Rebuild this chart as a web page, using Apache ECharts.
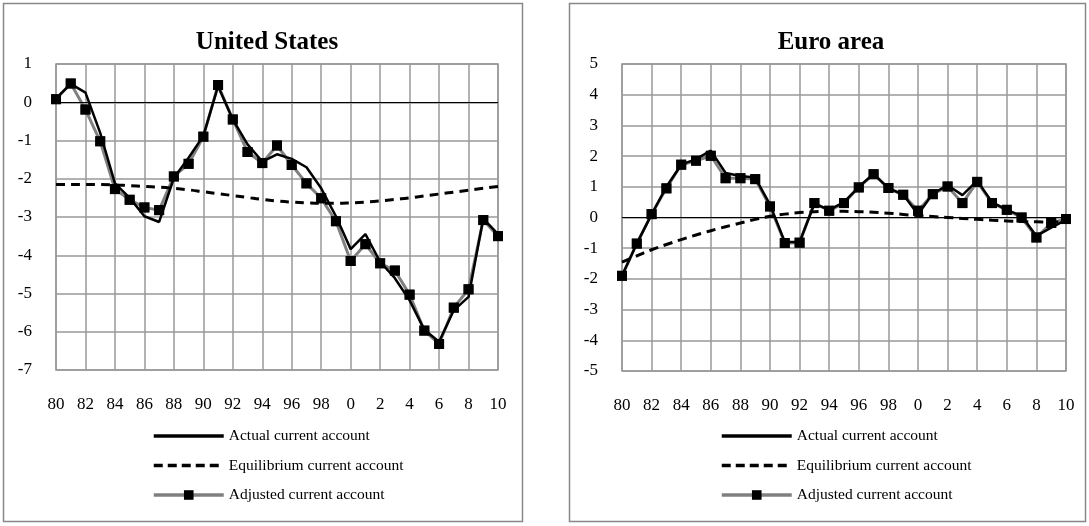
<!DOCTYPE html>
<html>
<head>
<meta charset="utf-8">
<script src="https://cdn.jsdelivr.net/npm/echarts@6/dist/echarts.min.js"></script>
<style>html,body{margin:0;padding:0;background:#fff;}#c{width:1089px;height:526px;}</style>
</head>
<body>
<div id="c"></div>
<script>
const years = [1980,1981,1982,1983,1984,1985,1986,1987,1988,1989,1990,1991,1992,1993,1994,1995,1996,1997,1998,1999,2000,2001,2002,2003,2004,2005,2006,2007,2008,2009,2010];
const usTitle = 'United States';
const euTitle = 'Euro area';
const seriesNames = ['Actual current account','Equilibrium current account','Adjusted current account'];

const usActual = [0.1,0.48,0.25,-0.8,-2.12,-2.5,-2.98,-3.13,-1.98,-1.45,-0.88,0.42,-0.45,-1.1,-1.55,-1.36,-1.48,-1.7,-2.25,-2.98,-3.84,-3.45,-4.17,-4.6,-5.18,-5.95,-6.26,-5.44,-5.09,-3.04,-3.45];
const usEquil = [-2.15,-2.15,-2.15,-2.15,-2.16,-2.18,-2.2,-2.22,-2.25,-2.29,-2.34,-2.39,-2.44,-2.49,-2.54,-2.58,-2.61,-2.63,-2.64,-2.64,-2.63,-2.61,-2.58,-2.54,-2.5,-2.45,-2.4,-2.35,-2.3,-2.25,-2.2];
const usAdjusted = [0.08,0.49,-0.19,-1.02,-2.27,-2.55,-2.75,-2.82,-1.94,-1.61,-0.9,0.45,-0.45,-1.3,-1.59,-1.13,-1.64,-2.12,-2.51,-3.11,-4.15,-3.71,-4.21,-4.4,-5.03,-5.97,-6.32,-5.37,-4.89,-3.08,-3.5];

const euActual = [-1.9,-0.85,0.1,1.0,1.72,1.9,2.18,1.45,1.35,1.3,0.42,-0.8,-0.8,0.45,0.25,0.5,1.0,1.42,0.95,0.75,0.1,0.78,1.05,0.73,1.2,0.5,0.25,0.05,-0.6,-0.33,-0.08];
const euEquil = [-1.45,-1.25,-1.05,-0.88,-0.72,-0.57,-0.43,-0.3,-0.18,-0.06,0.04,0.11,0.16,0.19,0.2,0.2,0.19,0.17,0.14,0.1,0.06,0.03,0.0,-0.03,-0.06,-0.09,-0.11,-0.13,-0.14,-0.15,-0.15];
const euAdjusted = [-1.9,-0.85,0.11,0.95,1.72,1.85,2.01,1.28,1.28,1.25,0.36,-0.83,-0.82,0.47,0.22,0.47,0.98,1.41,0.96,0.74,0.22,0.76,1.01,0.47,1.16,0.47,0.25,0.0,-0.65,-0.18,-0.05];

const usY = {min:-7, max:1, interval:1};
const euY = {min:-5, max:5, interval:1};

const FONT = '"Liberation Serif","Times New Roman",serif';
const pair = arr => years.map((y,i)=>[y,arr[i]]);

function panelSeries(idx, act, eq, adj){
  return [
    {name:seriesNames[2], type:'line', xAxisIndex:idx, yAxisIndex:idx, data:pair(adj), z:2,
     lineStyle:{color:'#808080', width:3}, itemStyle:{color:'#000'}, symbol:'rect', symbolSize:10, showSymbol:true,
     emphasis:{disabled:true}, animation:false,
     markLine:{silent:true, symbol:'none', label:{show:false}, lineStyle:{color:'#000', width:1, type:'solid'}, data:[{yAxis:0}], animation:false}},
    {name:seriesNames[0], type:'line', xAxisIndex:idx, yAxisIndex:idx, data:pair(act), z:3,
     lineStyle:{color:'#000', width:2.5}, itemStyle:{color:'#000'}, symbol:'none', showSymbol:false,
     emphasis:{disabled:true}, animation:false},
    {name:seriesNames[1], type:'line', xAxisIndex:idx, yAxisIndex:idx, data:pair(eq), z:3, smooth:true,
     lineStyle:{color:'#000', width:3, type:[9,6]}, itemStyle:{color:'#000'}, symbol:'none', showSymbol:false,
     emphasis:{disabled:true}, animation:false},
    {name:'adjMarkers'+idx, type:'scatter', xAxisIndex:idx, yAxisIndex:idx, data:pair(adj), z:4,
     symbol:'rect', symbolSize:10, itemStyle:{color:'#000'}, emphasis:{disabled:true}, animation:false}
  ];
}

function xAxisCfg(gi){
  return {type:'value', gridIndex:gi, min:1980, max:2010, interval:2,
    axisLine:{show:false}, axisTick:{show:false},
    axisLabel:{margin:26, fontFamily:FONT, fontSize:17, color:'#000', formatter:v=>String(v%100)},
    splitLine:{show:true, lineStyle:{color:'#999', width:1.5}}};
}
function yAxisCfg(gi, s){
  return {type:'value', gridIndex:gi, min:s.min, max:s.max, interval:s.interval,
    axisLine:{show:false}, axisTick:{show:false},
    axisLabel:{margin:24, fontFamily:FONT, fontSize:17, color:'#000'},
    splitLine:{show:true, lineStyle:{color:'#999', width:1.5}}};
}
function legendCfg(left){
  return {orient:'vertical', left:left, top:423, itemWidth:70, itemHeight:12, itemGap:13.5,
    data:[
      {name:seriesNames[0], itemStyle:{opacity:0}, lineStyle:{color:'#000', width:3.5, type:'solid'}},
      {name:seriesNames[1], itemStyle:{opacity:0}, lineStyle:{color:'#000', width:3.5, type:[9,5]}},
      {name:seriesNames[2], itemStyle:{color:'#000'}, lineStyle:{color:'#808080', width:3.5, type:'solid'}}
    ],
    selectedMode:false,
    textStyle:{fontFamily:FONT, fontSize:15.5, color:'#000', lineHeight:16}};
}

const chart = echarts.init(document.getElementById('c'), null, {renderer:'canvas'});
chart.setOption({
  backgroundColor:'#fff',
  animation:false,
  title:[
    {text:usTitle, left:262, top:25, textAlign:'center', textStyle:{fontFamily:FONT, fontSize:25, fontWeight:'bold', color:'#000'}},
    {text:euTitle, left:826, top:25, textAlign:'center', textStyle:{fontFamily:FONT, fontSize:25, fontWeight:'bold', color:'#000'}}
  ],
  graphic:[
    {type:'rect', shape:{x:3.5, y:3.5, width:519, height:518}, style:{fill:'none', stroke:'#888', lineWidth:1.5}, silent:true, z:-10},
    {type:'rect', shape:{x:569.5, y:3.5, width:516, height:518}, style:{fill:'none', stroke:'#888', lineWidth:1.5}, silent:true, z:-10}
  ],
  grid:[
    {left:56, top:64, width:442, height:306, show:true, borderColor:'#999', borderWidth:1.5, backgroundColor:'transparent'},
    {left:622, top:64, width:444, height:307, show:true, borderColor:'#999', borderWidth:1.5, backgroundColor:'transparent'}
  ],
  xAxis:[xAxisCfg(0), xAxisCfg(1)],
  yAxis:[yAxisCfg(0, usY), yAxisCfg(1, euY)],
  legend:[legendCfg(147), legendCfg(715)],
  series:[].concat(panelSeries(0, usActual, usEquil, usAdjusted), panelSeries(1, euActual, euEquil, euAdjusted))
});
</script>
</body>
</html>
